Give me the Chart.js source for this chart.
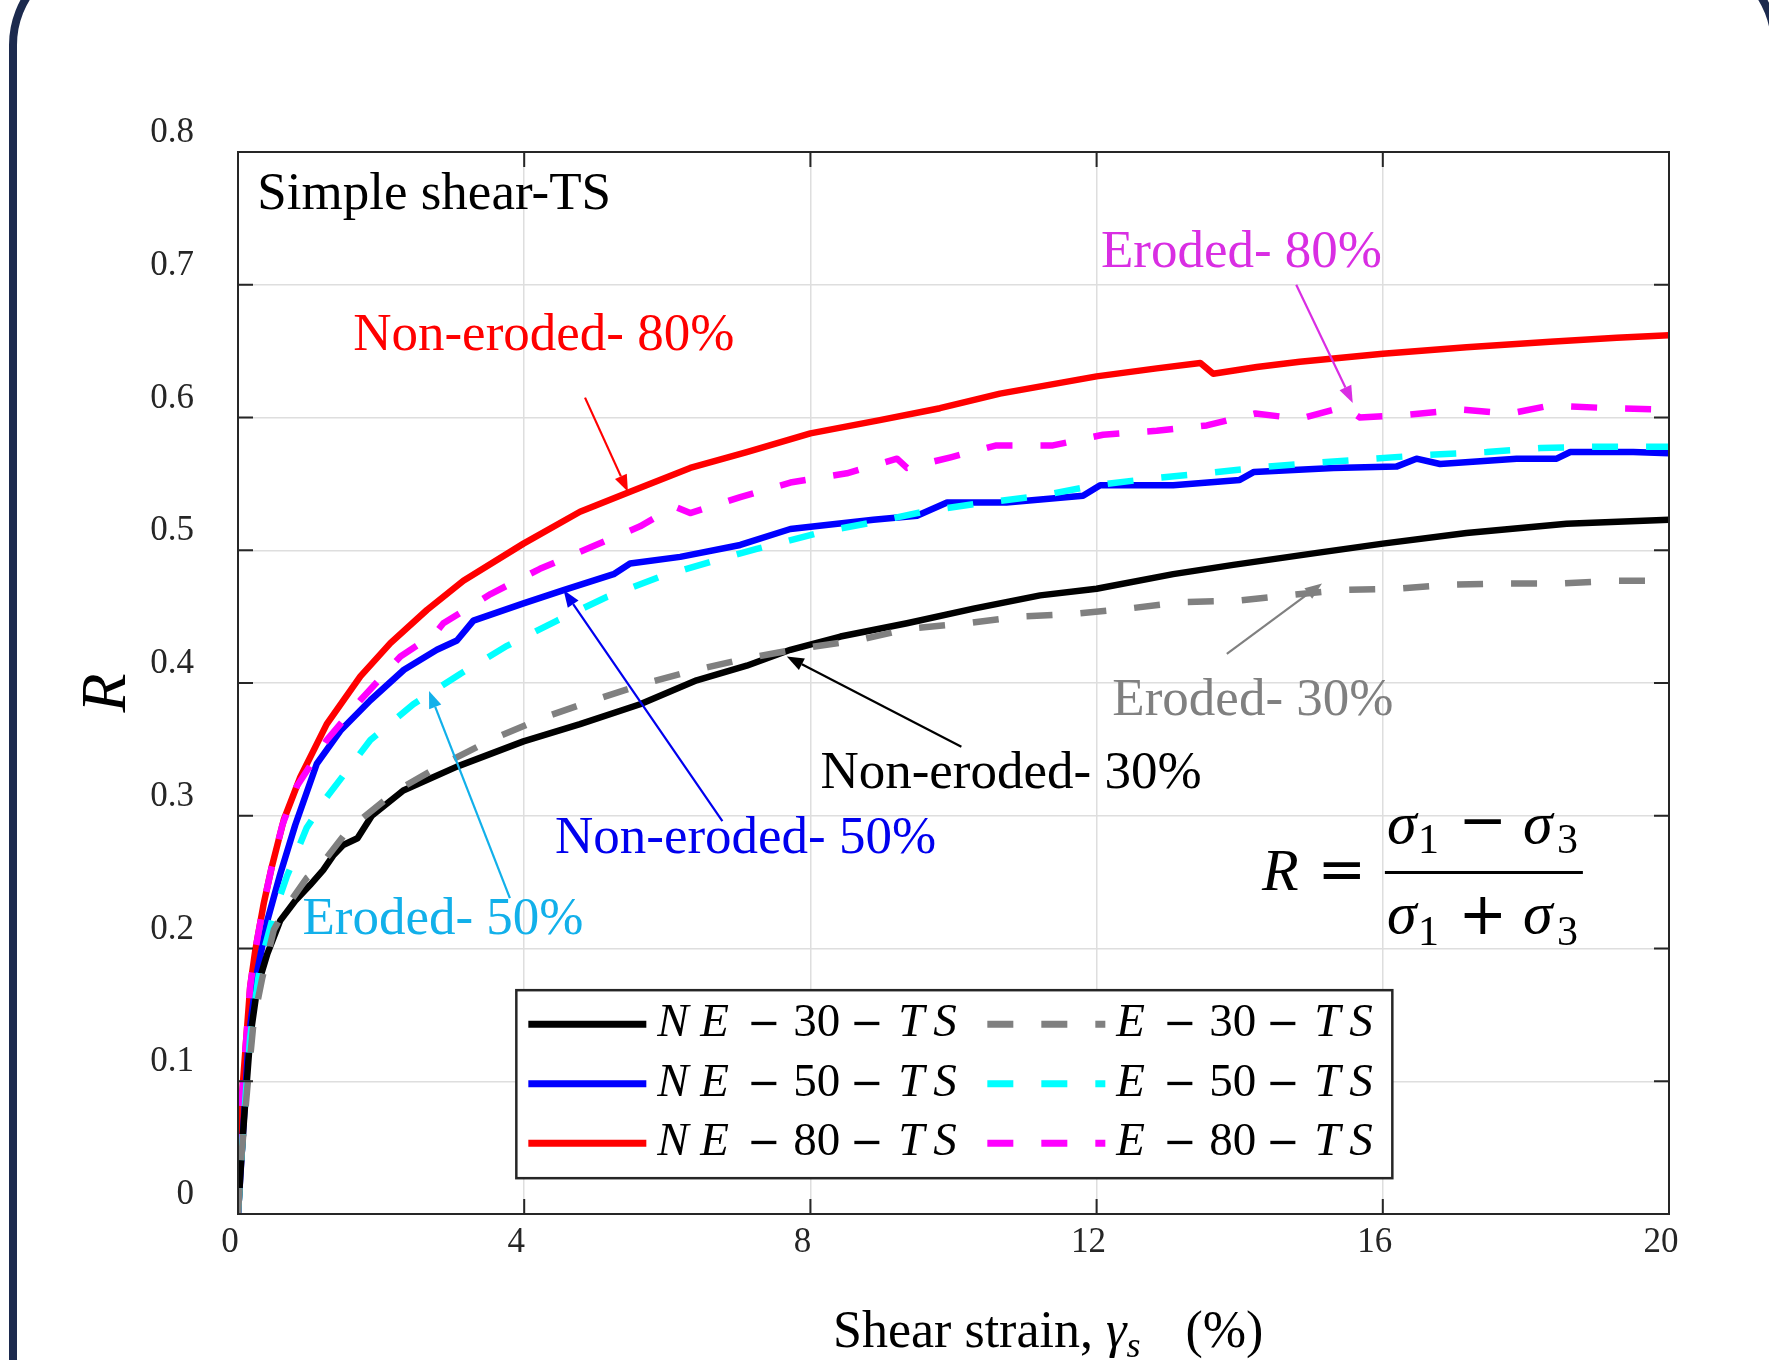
<!DOCTYPE html>
<html>
<head>
<meta charset="utf-8">
<title>Simple shear-TS: R vs shear strain</title>
<script src="https://cdn.jsdelivr.net/npm/chart.js@4.4.1/dist/chart.umd.min.js"></script>
<style>
  html, body { margin: 0; padding: 0; background: #fff; overflow: hidden; }
  #wrap { position: relative; width: 1769px; height: 1360px; overflow: hidden; }
  #frame {
    position: absolute; left: 9px; top: -49px; width: 1770px; height: 1500px;
    border: 8px solid #1c2a4e; border-radius: 94px; box-sizing: border-box;
  }
  #chart { position: absolute; left: 0; top: 0; }
</style>
</head>
<body>
<div id="wrap">
  <div id="frame"></div>
  <canvas id="chart" width="1769" height="1360"></canvas>
</div>
<script>
// Axis ticks
const xTicks = [0, 4, 8, 12, 16, 20];
const yTicks = [0, 0.1, 0.2, 0.3, 0.4, 0.5, 0.6, 0.7, 0.8];

// Non-eroded 30% (black)
const ne30X = [0, 0.05, 0.10, 0.17, 0.27, 0.41, 0.59, 0.80, 1.01, 1.19, 1.33, 1.47, 1.67, 1.87, 2.31, 3.06, 3.99, 4.78, 5.62, 6.41, 7.11, 7.72, 8.42, 9.35, 10.28, 11.21, 12.0, 13.07, 13.91, 15.08, 16.0, 17.17, 18.57, 20.0];
const ne30Y = [0, 0.045, 0.083, 0.133, 0.171, 0.196, 0.221, 0.236, 0.248, 0.259, 0.270, 0.278, 0.283, 0.300, 0.319, 0.337, 0.356, 0.369, 0.384, 0.402, 0.413, 0.425, 0.435, 0.445, 0.456, 0.466, 0.471, 0.482, 0.489, 0.498, 0.505, 0.513, 0.520, 0.523];

// Eroded 30% (gray dashed)
const e30X = [0, 0.05, 0.13, 0.22, 0.34, 0.50, 0.66, 0.96, 1.12, 1.52, 1.76, 2.22, 2.87, 3.57, 4.27, 4.97, 5.71, 6.41, 7.06, 7.86, 8.65, 9.39, 10.19, 10.93, 11.68, 12.43, 13.21, 13.96, 14.66, 15.40, 16.19, 16.94, 17.68, 18.48, 19.22, 20.0];
const e30Y = [0, 0.045, 0.095, 0.146, 0.178, 0.214, 0.230, 0.253, 0.260, 0.288, 0.299, 0.319, 0.339, 0.358, 0.374, 0.387, 0.400, 0.410, 0.418, 0.426, 0.432, 0.441, 0.445, 0.450, 0.452, 0.456, 0.461, 0.462, 0.466, 0.470, 0.471, 0.474, 0.475, 0.475, 0.477, 0.477];

// Non-eroded 50% (blue)
const ne50X = [0, 0.08, 0.15, 0.27, 0.41, 0.59, 0.80, 1.10, 1.43, 1.85, 2.32, 2.78, 3.06, 3.29, 3.99, 4.55, 5.25, 5.48, 6.18, 7.02, 7.72, 8.88, 9.49, 9.91, 10.74, 11.81, 12.05, 13.07, 14.0, 14.2, 15.31, 16.19, 16.47, 16.80, 17.87, 18.43, 18.62, 19.5, 20.0];
const ne50Y = [0, 0.070, 0.133, 0.183, 0.221, 0.256, 0.293, 0.339, 0.364, 0.387, 0.410, 0.425, 0.432, 0.447, 0.460, 0.470, 0.482, 0.490, 0.495, 0.504, 0.516, 0.523, 0.526, 0.536, 0.536, 0.541, 0.549, 0.549, 0.553, 0.559, 0.562, 0.563, 0.569, 0.565, 0.569, 0.569, 0.574, 0.574, 0.573];

// Eroded 50% (cyan dashed)
const e50X = [0, 0.08, 0.17, 0.31, 0.50, 0.68, 0.96, 1.24, 1.85, 2.45, 3.11, 3.76, 4.46, 5.16, 5.90, 6.65, 7.25, 8.18, 8.88, 9.67, 10.46, 11.21, 12.0, 12.75, 13.54, 14.38, 15.08, 15.87, 16.66, 17.45, 18.20, 18.99, 20.0];
const e50Y = [0, 0.070, 0.133, 0.188, 0.226, 0.254, 0.291, 0.314, 0.357, 0.384, 0.407, 0.428, 0.447, 0.465, 0.480, 0.492, 0.501, 0.514, 0.521, 0.530, 0.536, 0.541, 0.549, 0.554, 0.558, 0.563, 0.566, 0.569, 0.572, 0.574, 0.577, 0.578, 0.578];

// Non-eroded 80% (red)
const ne80X = [0, 0.03, 0.10, 0.17, 0.24, 0.36, 0.47, 0.64, 0.87, 1.24, 1.71, 2.13, 2.64, 3.15, 3.99, 4.78, 5.48, 6.32, 7.11, 8.0, 8.97, 9.81, 10.65, 12.0, 12.84, 13.45, 13.63, 14.24, 14.84, 16.0, 17.17, 18.34, 19.27, 20.0];
const ne80Y = [0, 0.070, 0.121, 0.171, 0.198, 0.234, 0.261, 0.297, 0.329, 0.369, 0.405, 0.430, 0.455, 0.477, 0.505, 0.529, 0.544, 0.562, 0.574, 0.588, 0.598, 0.607, 0.618, 0.631, 0.637, 0.641, 0.633, 0.638, 0.642, 0.648, 0.653, 0.657, 0.660, 0.662];

// Eroded 80% (magenta dashed)
const e80X = [0, 0.03, 0.10, 0.17, 0.24, 0.36, 0.47, 0.62, 0.82, 1.24, 1.71, 2.27, 2.75, 2.87, 3.53, 4.22, 4.92, 5.62, 6.10, 6.32, 7.02, 7.72, 8.51, 9.21, 9.35, 9.96, 10.6, 11.39, 12.09, 12.84, 13.54, 14.22, 14.84, 15.45, 15.68, 16.33, 17.08, 17.78, 18.34, 19.18, 20.0];
const e80Y = [0, 0.070, 0.121, 0.171, 0.198, 0.234, 0.261, 0.293, 0.322, 0.357, 0.387, 0.420, 0.437, 0.445, 0.467, 0.486, 0.502, 0.518, 0.533, 0.528, 0.540, 0.551, 0.558, 0.569, 0.562, 0.570, 0.579, 0.579, 0.587, 0.590, 0.594, 0.603, 0.599, 0.608, 0.600, 0.602, 0.606, 0.603, 0.609, 0.607, 0.606];

const FONT = "'Liberation Serif', 'Times New Roman', serif";
const OPS = "'DejaVu Sans', sans-serif";
const AXIS_INK = '#262626';

// Callouts: text anchored at (x, y) in data units, arrow from tail to tip
const callouts = [
  { text: 'Simple shear-TS', color: '#000000', x: 0.27, y: 0.757 },
  { text: 'Non-eroded- 80%', color: '#ff0000', x: 1.61, y: 0.651, from: [4.85, 0.615], to: [5.45, 0.544] },
  { text: 'Eroded- 80%', color: '#d92ee3', x: 12.06, y: 0.713, from: [14.79, 0.700], to: [15.58, 0.611] },
  { text: 'Eroded- 30%', color: '#808080', x: 12.22, y: 0.376, from: [13.82, 0.422], to: [15.15, 0.475] },
  { text: 'Non-eroded- 30%', color: '#000000', x: 8.14, y: 0.321, from: [10.11, 0.352], to: [7.67, 0.420] },
  { text: 'Non-eroded- 50%', color: '#0000ee', x: 4.43, y: 0.272, from: [6.77, 0.296], to: [4.55, 0.470] },
  { text: 'Eroded- 50%', color: '#12b0ea', x: 0.90, y: 0.211, from: [3.80, 0.238], to: [2.67, 0.394] }
];

function pts(xs, ys) {
  return xs.map((x, i) => ({ x: x, y: ys[i] }));
}

const datasets = [
  { label: 'NE-30-TS', data: pts(ne30X, ne30Y), borderColor: '#000000', order: 2 },
  { label: 'NE-50-TS', data: pts(ne50X, ne50Y), borderColor: '#0000ff', order: 2 },
  { label: 'NE-80-TS', data: pts(ne80X, ne80Y), borderColor: '#ff0000', order: 2 },
  { label: 'E-30-TS', data: pts(e30X, e30Y), borderColor: '#808080', borderDash: [26, 28], order: 1 },
  { label: 'E-50-TS', data: pts(e50X, e50Y), borderColor: '#00ffff', borderDash: [26, 28], order: 1 },
  { label: 'E-80-TS', data: pts(e80X, e80Y), borderColor: '#ff00ff', borderDash: [26, 28], order: 1 }
];
datasets.forEach(d => {
  d.borderWidth = 6.5;
  d.pointRadius = 0;
  d.fill = false;
  d.tension = 0;
  d.borderCapStyle = 'butt';
  d.borderJoinStyle = 'round';
});

function drawArrow(ctx, x1, y1, x2, y2, color) {
  const a = Math.atan2(y2 - y1, x2 - x1);
  const len = 17, half = 6.5;
  ctx.strokeStyle = color;
  ctx.fillStyle = color;
  ctx.lineWidth = 2.2;
  ctx.beginPath();
  ctx.moveTo(x1, y1);
  ctx.lineTo(x2 - Math.cos(a) * len, y2 - Math.sin(a) * len);
  ctx.stroke();
  ctx.beginPath();
  ctx.moveTo(x2, y2);
  ctx.lineTo(x2 - Math.cos(a) * len - Math.sin(a) * half, y2 - Math.sin(a) * len + Math.cos(a) * half);
  ctx.lineTo(x2 - Math.cos(a) * len + Math.sin(a) * half, y2 - Math.sin(a) * len - Math.cos(a) * half);
  ctx.closePath();
  ctx.fill();
}

// Box with inward ticks, like the original figure
const boxPlugin = {
  id: 'box',
  afterDatasetsDraw(chart) {
    const { ctx, chartArea: a, scales } = chart;
    ctx.save();
    ctx.strokeStyle = AXIS_INK;
    ctx.lineWidth = 2;
    ctx.strokeRect(a.left, a.top, a.right - a.left, a.bottom - a.top);
    ctx.beginPath();
    xTicks.forEach(v => {
      const px = scales.x.getPixelForValue(v);
      ctx.moveTo(px, a.bottom); ctx.lineTo(px, a.bottom - 15);
      ctx.moveTo(px, a.top); ctx.lineTo(px, a.top + 15);
    });
    yTicks.forEach(v => {
      const py = scales.y.getPixelForValue(v);
      ctx.moveTo(a.left, py); ctx.lineTo(a.left + 15, py);
      ctx.moveTo(a.right, py); ctx.lineTo(a.right - 15, py);
    });
    ctx.stroke();
    ctx.restore();
  }
};

// Callout texts, arrows, formula and axis titles
const notesPlugin = {
  id: 'notes',
  afterDatasetsDraw(chart) {
    const { ctx, chartArea: a, scales } = chart;
    const sx = v => scales.x.getPixelForValue(v);
    const sy = v => scales.y.getPixelForValue(v);
    ctx.save();
    ctx.textBaseline = 'alphabetic';
    ctx.textAlign = 'left';
    callouts.forEach(c => {
      ctx.font = '53px ' + FONT;
      ctx.fillStyle = c.color;
      ctx.fillText(c.text, sx(c.x), sy(c.y));
      if (c.from) drawArrow(ctx, sx(c.from[0]), sy(c.from[1]), sx(c.to[0]), sy(c.to[1]), c.color);
    });

    // R = (s1 - s3) / (s1 + s3)
    const fx = sx(14.31), fy = sy(0.2437);
    ctx.fillStyle = '#000';
    const it = 'italic 60px ' + FONT, sub = '42px ' + FONT, op = '58px ' + OPS;
    ctx.font = it; ctx.fillText('R', fx, fy);
    ctx.fillRect(fx + 123, fy - 19.5, 198, 3);
    ctx.fillText('\u03c3', fx + 125, fy - 47);
    ctx.fillText('\u03c3', fx + 261, fy - 47);
    ctx.fillText('\u03c3', fx + 125, fy + 43);
    ctx.fillText('\u03c3', fx + 261, fy + 43);
    ctx.font = sub;
    ctx.fillText('1', fx + 156, fy - 37);
    ctx.fillText('3', fx + 295, fy - 37);
    ctx.fillText('1', fx + 156, fy + 55);
    ctx.fillText('3', fx + 295, fy + 55);
    ctx.font = op;
    ctx.textAlign = 'center';
    ctx.fillText('=', fx + 80, fy - 18.5 + 17);
    ctx.fillText('\u2212', fx + 221, fy - 67 + 17);
    ctx.fillText('+', fx + 221, fy + 27 + 17);
    ctx.textAlign = 'left';

    // x-axis title
    let tx = a.left + 595;
    const ty = a.bottom + 133;
    ctx.fillStyle = '#000';
    ctx.font = '52px ' + FONT;
    ctx.fillText('Shear strain, ', tx, ty);
    tx += ctx.measureText('Shear strain, ').width;
    ctx.font = 'italic 52px ' + FONT;
    ctx.fillText('\u03b3', tx, ty);
    tx += ctx.measureText('\u03b3').width;
    ctx.font = 'italic 36px ' + FONT;
    ctx.fillText('s', tx, ty + 10);
    tx += ctx.measureText('s').width + 45;
    ctx.font = '52px ' + FONT;
    ctx.fillText('(%)', tx, ty);

    // y-axis title
    ctx.translate(a.left - 113, (a.top + a.bottom) / 2 + 10);
    ctx.rotate(-Math.PI / 2);
    ctx.textAlign = 'center';
    ctx.font = 'italic 64px ' + FONT;
    ctx.fillText('R', 0, 0);
    ctx.restore();
  }
};

// Legend inside the plot, two columns, LaTeX-like labels
const legendPlugin = {
  id: 'boxLegend',
  afterDatasetsDraw(chart) {
    const { ctx, scales } = chart;
    const lx = scales.x.getPixelForValue(3.89);
    const ly = scales.y.getPixelForValue(0.1686);
    const w = 876, h = 188;
    ctx.save();
    ctx.fillStyle = '#fff';
    ctx.fillRect(lx, ly, w, h);
    ctx.strokeStyle = AXIS_INK;
    ctx.lineWidth = 2.5;
    ctx.strokeRect(lx, ly, w, h);
    ctx.textBaseline = 'alphabetic';
    ctx.textAlign = 'left';
    chart.data.datasets.forEach((ds, i) => {
      const col = i < 3 ? 0 : 1;
      const row = i % 3;
      const lineY = ly + 34 + row * 59.5;
      const baseY = ly + 46 + row * 59.5;
      const x0 = lx + 12 + col * 459;
      ctx.strokeStyle = ds.borderColor;
      ctx.lineWidth = 7;
      ctx.lineCap = 'butt';
      ctx.setLineDash(ds.borderDash || []);
      ctx.beginPath();
      ctx.moveTo(x0, lineY);
      ctx.lineTo(x0 + 118, lineY);
      ctx.stroke();
      ctx.setLineDash([]);

      const parts = ds.label.split('-');
      const t0 = lx + 141 + col * 416;
      ctx.fillStyle = '#000';
      const it = 'italic 47px ' + FONT, up = '47px ' + FONT, op = '40px ' + OPS;
      ctx.font = it;
      if (parts[0] === 'NE') ctx.fillText('N', t0, baseY);
      ctx.fillText('E', t0 + 43, baseY);
      ctx.font = up;
      ctx.fillText(parts[1], t0 + 136, baseY);
      ctx.font = op;
      ctx.fillText('\u2212', t0 + 90, lineY + 12);
      ctx.fillText('\u2212', t0 + 193, lineY + 12);
      ctx.font = it;
      ctx.fillText('T', t0 + 241, baseY);
      ctx.fillText('S', t0 + 276, baseY);
    });
    ctx.restore();
  }
};

new Chart(document.getElementById('chart'), {
  type: 'line',
  data: { datasets: datasets },
  options: {
    responsive: false,
    animation: false,
    layout: { padding: { top: 152, right: 100, left: 0, bottom: 0 } },
    plugins: { legend: { display: false }, tooltip: { enabled: false } },
    scales: {
      x: {
        type: 'linear',
        min: 0, max: 20,
        afterFit: s => { s.height = 146; },
        afterBuildTicks: s => { s.ticks = xTicks.map(v => ({ value: v })); },
        grid: { color: '#dedede', lineWidth: 1.5, drawTicks: false },
        border: { display: false },
        ticks: {
          font: { family: FONT, size: 35 },
          color: AXIS_INK,
          padding: 8,
          labelOffset: -8,
          callback: v => String(v)
        }
      },
      y: {
        min: 0, max: 0.8,
        afterFit: s => { s.width = 238; },
        afterBuildTicks: s => { s.ticks = yTicks.map(v => ({ value: v })); },
        grid: { color: '#dedede', lineWidth: 1.5, drawTicks: false },
        border: { display: false },
        ticks: {
          font: { family: FONT, size: 35 },
          color: AXIS_INK,
          padding: 44,
          labelOffset: -19,
          callback: v => (v === 0 ? '0' : v.toFixed(1))
        }
      }
    }
  },
  plugins: [boxPlugin, notesPlugin, legendPlugin]
});
</script>
</body>
</html>
